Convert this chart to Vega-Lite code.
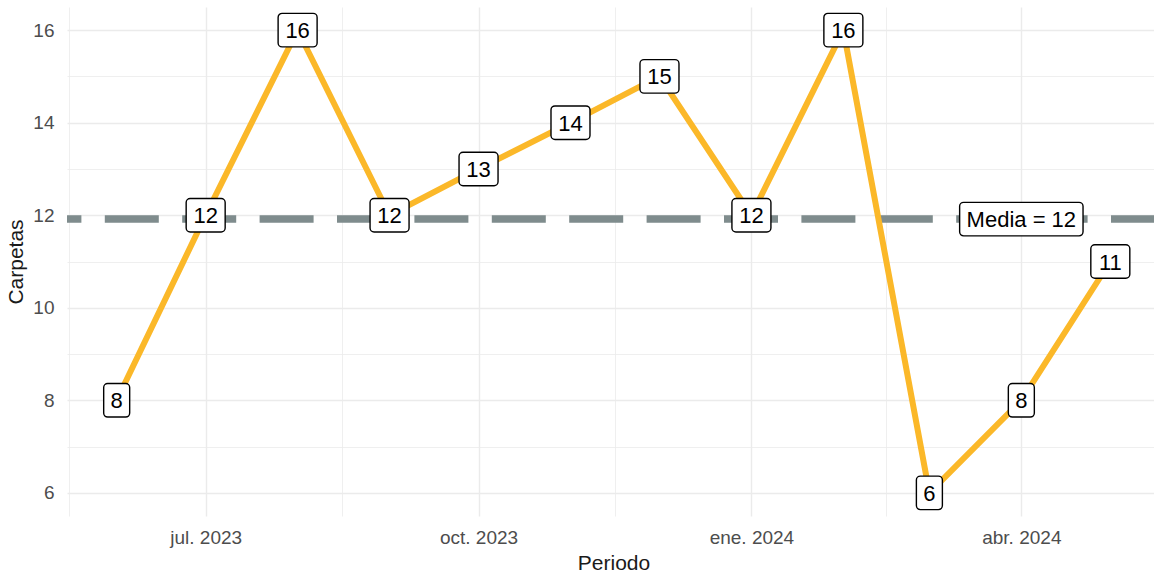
{
  "$schema": "https://vega.github.io/schema/vega-lite/v6.json",
  "width": 1093,
  "height": 509,
  "autosize": {"type": "none"},
  "padding": {"left": 67, "top": 7, "right": 0, "bottom": 57},
  "background": "white",
  "config": {
    "view": {"stroke": null},
    "font": "Liberation Sans",
    "axis": {
      "domain": false,
      "ticks": false,
      "labelColor": "#4d4d4d",
      "labelFontSize": 19,
      "titleFontSize": 21,
      "titleFontWeight": "normal",
      "titleColor": "#1a1a1a",
      "gridColor": "#ebebeb",
      "labelOverlap": false,
      "labelFlush": false,
      "labelBound": false
    },
    "axisX": {"labelPadding": 12, "titlePadding": 5},
    "axisY": {"labelPadding": 13, "titlePadding": 6}
  },
  "datasets": {
    "serie": [
      {"fecha": "2023-06-01", "valor": 8},
      {"fecha": "2023-07-01", "valor": 12},
      {"fecha": "2023-08-01", "valor": 16},
      {"fecha": "2023-09-01", "valor": 12},
      {"fecha": "2023-10-01", "valor": 13},
      {"fecha": "2023-11-01", "valor": 14},
      {"fecha": "2023-12-01", "valor": 15},
      {"fecha": "2024-01-01", "valor": 12},
      {"fecha": "2024-02-01", "valor": 16},
      {"fecha": "2024-03-01", "valor": 6},
      {"fecha": "2024-04-01", "valor": 8},
      {"fecha": "2024-05-01", "valor": 11}
    ],
    "media": [
      {"fecha": "2024-04-01", "valor": 11.9167, "etiqueta": "Media = 12"}
    ]
  },
  "layer": [
    {
      "data": {"name": "media"},
      "mark": {"type": "rule", "color": "#7f8c8d", "strokeWidth": 7.5, "strokeDash": [54, 23.4], "strokeDashOffset": 5},
      "encoding": {
        "y": {
          "field": "valor",
          "type": "quantitative",
          "title": "Carpetas",
          "scale": {"domain": [5.5, 16.5], "nice": false, "zero": false},
          "axis": {
            "values": [6, 7, 8, 9, 10, 11, 12, 13, 14, 15, 16],
            "labelExpr": "datum.value % 2 == 0 ? datum.label : ''",
            "gridWidth": {"condition": {"test": "datum.value % 2 == 0", "value": 1.4}, "value": 0.8}
          }
        }
      }
    },
    {
      "data": {"name": "serie"},
      "mark": {"type": "line", "color": "#fbb829", "strokeWidth": 6},
      "encoding": {
        "x": {
          "field": "fecha",
          "type": "temporal",
          "title": "Periodo",
          "scale": {
            "type": "utc",
            "domain": [
              {"year": 2023, "month": 5, "date": 15, "hours": 6, "utc": true},
              {"year": 2024, "month": 5, "date": 17, "hours": 18, "utc": true}
            ],
            "nice": false
          },
          "axis": {
            "values": [
              {"year": 2023, "month": 5, "date": 16, "utc": true},
              {"year": 2023, "month": 7, "date": 1, "utc": true},
              {"year": 2023, "month": 8, "date": 16, "utc": true},
              {"year": 2023, "month": 10, "date": 1, "utc": true},
              {"year": 2023, "month": 11, "date": 16, "utc": true},
              {"year": 2024, "month": 1, "date": 1, "utc": true},
              {"year": 2024, "month": 2, "date": 15, "hours": 12, "utc": true},
              {"year": 2024, "month": 4, "date": 1, "utc": true},
              {"year": 2024, "month": 5, "date": 16, "utc": true}
            ],
            "labelExpr": "utcdate(datum.value) == 1 ? ['ene.','feb.','mar.','abr.','may.','jun.','jul.','ago.','sept.','oct.','nov.','dic.'][utcmonth(datum.value)] + ' ' + utcyear(datum.value) : ''",
            "gridWidth": {"condition": {"test": "utcdate(datum.value) == 1", "value": 1.4}, "value": 0.8}
          }
        },
        "y": {"field": "valor", "type": "quantitative"}
      }
    },
    {
      "data": {"name": "serie"},
      "transform": [{"filter": "datum.valor < 10"}],
      "mark": {"type": "rect", "fill": "white", "stroke": "black", "strokeWidth": 1.4, "cornerRadius": 4, "xOffset": -13, "x2Offset": 13, "yOffset": -16.75, "y2Offset": 16.75},
      "encoding": {
        "x": {"field": "fecha", "type": "temporal"},
        "x2": {"field": "fecha"},
        "y": {"field": "valor", "type": "quantitative"},
        "y2": {"field": "valor"}
      }
    },
    {
      "data": {"name": "serie"},
      "transform": [{"filter": "datum.valor >= 10"}],
      "mark": {"type": "rect", "fill": "white", "stroke": "black", "strokeWidth": 1.4, "cornerRadius": 4, "xOffset": -19.5, "x2Offset": 19.5, "yOffset": -16.75, "y2Offset": 16.75},
      "encoding": {
        "x": {"field": "fecha", "type": "temporal"},
        "x2": {"field": "fecha"},
        "y": {"field": "valor", "type": "quantitative"},
        "y2": {"field": "valor"}
      }
    },
    {
      "data": {"name": "media"},
      "mark": {"type": "rect", "fill": "white", "stroke": "black", "strokeWidth": 1.4, "cornerRadius": 4, "xOffset": -61.7, "x2Offset": 61.7, "yOffset": -16.75, "y2Offset": 16.75},
      "encoding": {
        "x": {"field": "fecha", "type": "temporal"},
        "x2": {"field": "fecha"},
        "y": {"field": "valor", "type": "quantitative"},
        "y2": {"field": "valor"}
      }
    },
    {
      "data": {"name": "serie"},
      "mark": {"type": "text", "fontSize": 22, "color": "black", "align": "center", "baseline": "middle", "dy": 1},
      "encoding": {
        "x": {"field": "fecha", "type": "temporal"},
        "y": {"field": "valor", "type": "quantitative"},
        "text": {"field": "valor", "type": "quantitative"}
      }
    },
    {
      "data": {"name": "media"},
      "mark": {"type": "text", "fontSize": 22, "color": "black", "align": "center", "baseline": "middle", "dy": 1},
      "encoding": {
        "x": {"field": "fecha", "type": "temporal"},
        "y": {"field": "valor", "type": "quantitative"},
        "text": {"field": "etiqueta", "type": "nominal"}
      }
    }
  ]
}
